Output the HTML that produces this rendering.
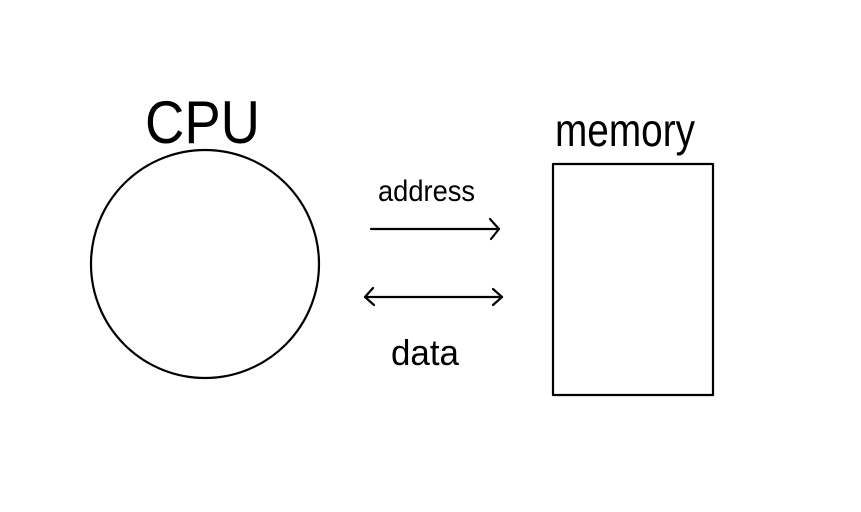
<!DOCTYPE html>
<html><head><style>html,body{margin:0;padding:0;background:#fff;}svg{display:block}</style></head>
<body>
<svg width="861" height="512" viewBox="0 0 861 512" xmlns="http://www.w3.org/2000/svg">
<rect width="861" height="512" fill="#fff"/>
<g fill="none" stroke="#000" stroke-width="2.2" stroke-linecap="round" stroke-linejoin="round">
<ellipse cx="205" cy="264" rx="114" ry="114"/>
<rect x="553" y="164" width="160" height="231"/>
<line x1="371" y1="229" x2="499" y2="229"/>
<polyline points="490,219 499,229 491,239"/>
<line x1="365" y1="297" x2="502" y2="297"/>
<polyline points="373,288 365,297 374,305"/>
<polyline points="493,289 502,297 493,305"/>
</g>
<g font-family="Liberation Sans, sans-serif" fill="#000" font-weight="normal">
<text x="145" y="143" font-size="60" textLength="115" lengthAdjust="spacingAndGlyphs">CPU</text>
<text x="555" y="146" font-size="46" textLength="140" lengthAdjust="spacingAndGlyphs">memory</text>
<text x="378" y="201" font-size="30" textLength="97" lengthAdjust="spacingAndGlyphs">address</text>
<text x="391" y="365" font-size="36" textLength="68" lengthAdjust="spacingAndGlyphs">data</text>
</g>
</svg>
</body></html>
